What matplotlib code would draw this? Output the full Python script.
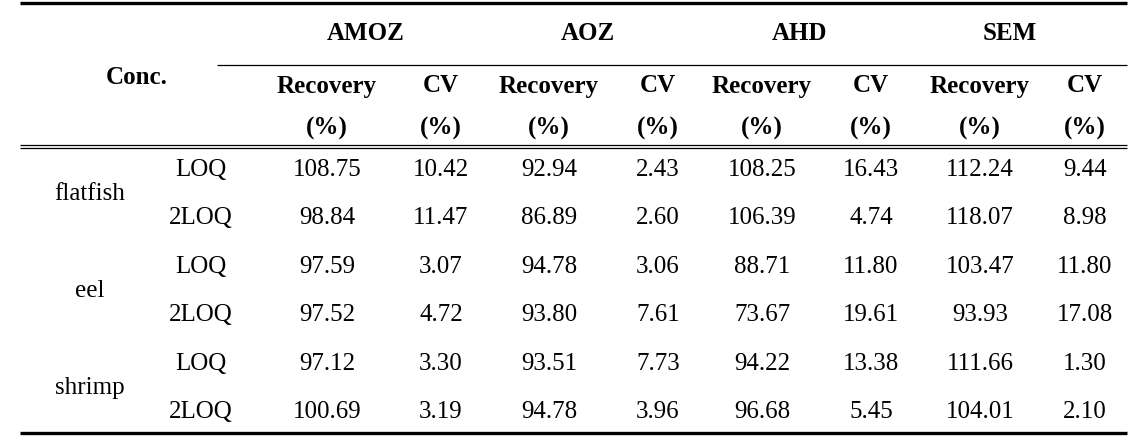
import matplotlib.pyplot as plt
from matplotlib.lines import Line2D

# table content
analytes = ['AMOZ', 'AOZ', 'AHD', 'SEM']
species = ['flatfish', 'eel', 'shrimp']
levels = ['LOQ', '2LOQ']
recovery = {
    'AMOZ': ['108.75', '98.84', '97.59', '97.52', '97.12', '100.69'],
    'AOZ': ['92.94', '86.89', '94.78', '93.80', '93.51', '94.78'],
    'AHD': ['108.25', '106.39', '88.71', '73.67', '94.22', '96.68'],
    'SEM': ['112.24', '118.07', '103.47', '93.93', '111.66', '104.01'],
}
cv = {
    'AMOZ': ['10.42', '11.47', '3.07', '4.72', '3.30', '3.19'],
    'AOZ': ['2.43', '2.60', '3.06', '7.61', '7.73', '3.96'],
    'AHD': ['16.43', '4.74', '11.80', '19.61', '13.38', '5.45'],
    'SEM': ['9.44', '8.98', '11.80', '17.08', '1.30', '2.10'],
}

W, H = 1147, 446
fig = plt.figure(figsize=(W / 100, H / 100), dpi=100)
ax = fig.add_axes([0, 0, 1, 1])
ax.set_xlim(0, W)
ax.set_ylim(H, 0)
ax.axis('off')

font = 'Liberation Serif'
fs = 18

# layout (pixel positions)
rec_x = [327, 549, 762, 980]
cv_x = [441, 658, 871, 1085]
grp_x = [366, 588, 799, 1010]
row_y = [170, 218, 267, 315, 364, 412]
sp_x, lv_x = 90, 201

def txt(x, y, s, bold=False):
    ax.text(x, y, s, ha='center', va='center', fontsize=fs, family=font,
            fontweight='bold' if bold else 'normal', color='black')

# header
txt(137, 78, 'Conc.', bold=True)
for i, a in enumerate(analytes):
    txt(grp_x[i], 34, a, bold=True)
    txt(rec_x[i], 86, 'Recovery', bold=True)
    txt(cv_x[i], 86, 'CV', bold=True)
    txt(rec_x[i], 128, '(%)', bold=True)
    txt(cv_x[i], 128, '(%)', bold=True)

# body
for s_i, sp in enumerate(species):
    y0, y1 = row_y[2 * s_i], row_y[2 * s_i + 1]
    txt(sp_x, (y0 + y1) / 2, sp)
    for l_i, lv in enumerate(levels):
        r = 2 * s_i + l_i
        txt(lv_x, row_y[r], lv)
        for i, a in enumerate(analytes):
            txt(rec_x[i], row_y[r], recovery[a][r])
            txt(cv_x[i], row_y[r], cv[a][r])

# rules
def hline(y, x0, x1, lw):
    ax.add_line(Line2D([x0, x1], [y, y], color='black', lw=lw, solid_capstyle='butt'))

hline(3, 20, 1127, 2.4)
hline(65, 217, 1127, 0.9)
hline(144.5, 20, 1127, 0.9)
hline(148, 20, 1127, 0.9)
hline(433, 20, 1127, 2.4)

fig.savefig('out.png', dpi=100, facecolor='white')
